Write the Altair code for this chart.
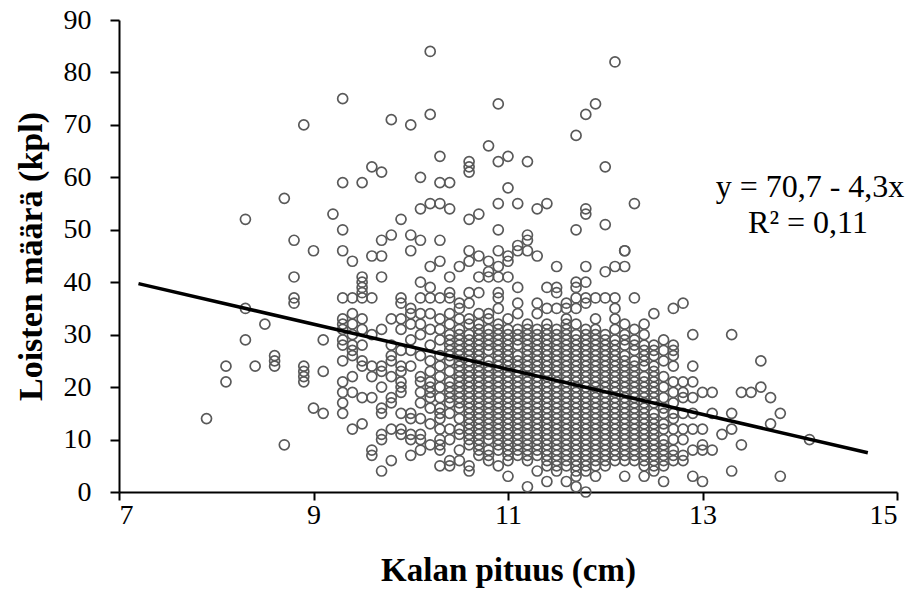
import altair as alt
import pandas as pd

# Fish length classes (cm) and parasite counts (kpl) observed at each length
lengths = [7.9, 8.1, 8.3, 8.4, 8.5, 8.6, 8.7, 8.8, 8.9, 9.0, 9.1, 9.2, 9.3, 9.4, 9.5,
           9.6, 9.7, 9.8, 9.9, 10.0, 10.1, 10.2, 10.3, 10.4, 10.5, 10.6, 10.7, 10.8,
           10.9, 11.0, 11.1, 11.2, 11.3, 11.4, 11.5, 11.6, 11.7, 11.8, 11.9, 12.0,
           12.1, 12.2, 12.3, 12.4, 12.5, 12.6, 12.7, 12.8, 12.9, 13.0, 13.1, 13.2,
           13.3, 13.4, 13.5, 13.6, 13.7, 13.8, 14.1]

counts = [
    [14],
    [24, 21],
    [52, 35, 29],
    [24],
    [32],
    [26, 25, 24],
    [56, 9],
    [48, 41, 37, 36],
    [70, 24, 23, 22, 21],
    [46, 16],
    [29, 23, 15],
    [53],
    [75, 59, 50, 46, 37, 33, 32, 31, 29, 28, 25, 21, 19, 17, 15],
    [44, 37, 34, 32, 30, 28, 27, 26, 22, 19, 12],
    [59, 41, 40, 39, 38, 37, 33, 31, 28, 25, 24, 18, 13],
    [62, 45, 37, 30, 24, 22, 18, 8, 7],
    [61, 48, 45, 41, 31, 24, 23, 20, 16, 15, 11, 10, 4],
    [71, 49, 33, 28, 26, 25, 22, 18, 17, 12, 6],
    [52, 37, 36, 33, 31, 27, 24, 23, 21, 20, 19, 15, 12, 11],
    [70, 49, 46, 35, 34, 32, 29, 27, 24, 15, 14, 11, 10, 7],
    [60, 54, 48, 40, 37, 34, 32, 30, 26, 22, 21, 19, 17, 14, 11, 10, 8],
    [84, 72, 55, 43, 39, 37, 34, 31, 28, 25, 23, 21, 20, 19, 18, 16, 13, 9],
    [64, 59, 55, 48, 44, 37, 33, 31, 29, 26, 24, 22, 20, 18, 16, 15, 14, 12, 10, 9, 8, 5],
    [59, 54, 41, 38, 37, 34, 32, 30, 29, 28, 27, 26, 25, 23, 21, 20, 19, 18, 17, 15, 12, 10, 6, 5],
    [43, 36, 35, 33, 31, 30, 29, 28, 27, 26, 25, 24, 23, 22, 21, 20, 19, 18, 17, 16, 14, 12, 11, 8, 6],
    [63, 62, 61, 52, 46, 44, 38, 36, 33, 32, 30, 29, 28, 27, 26, 25, 24, 23, 22, 21, 20, 19, 18, 17, 16, 15, 14, 13, 12, 11, 10, 9, 5, 4],
    [53, 45, 41, 38, 34, 32, 31, 30, 29, 28, 27, 26, 25, 24, 23, 22, 21, 20, 19, 18, 17, 16, 15, 14, 13, 12, 11, 10, 9, 8, 7],
    [66, 44, 42, 41, 34, 33, 31, 30, 29, 28, 27, 25, 24, 23, 22, 21, 20, 19, 18, 17, 16, 15, 14, 13, 12, 11, 10, 8, 7, 6],
    [74, 63, 55, 50, 46, 43, 41, 38, 37, 35, 32, 31, 30, 29, 28, 27, 26, 25, 24, 23, 22, 21, 20, 19, 18, 17, 16, 15, 14, 13, 12, 11, 10, 9, 8, 5],
    [64, 58, 45, 44, 41, 33, 31, 30, 29, 28, 27, 26, 25, 24, 23, 22, 21, 20, 19, 18, 17, 16, 15, 14, 13, 12, 11, 10, 9, 8, 7, 6, 3],
    [55, 47, 46, 39, 36, 34, 31, 30, 29, 28, 26, 25, 24, 23, 22, 21, 20, 19, 18, 17, 16, 15, 14, 13, 12, 11, 10, 9, 8, 7],
    [63, 49, 48, 46, 32, 31, 30, 29, 28, 27, 26, 25, 24, 23, 22, 21, 20, 19, 18, 17, 16, 15, 14, 13, 12, 11, 10, 9, 8, 7, 6, 1],
    [54, 45, 36, 34, 31, 30, 29, 28, 27, 26, 25, 24, 23, 22, 21, 20, 19, 18, 17, 16, 15, 14, 13, 12, 11, 10, 9, 8, 7, 4],
    [55, 39, 35, 32, 31, 30, 29, 28, 27, 26, 25, 24, 23, 22, 21, 20, 19, 18, 17, 16, 15, 14, 13, 12, 11, 10, 9, 8, 7, 6, 5, 2],
    [43, 39, 38, 35, 31, 30, 29, 28, 27, 26, 25, 24, 23, 22, 21, 20, 19, 18, 17, 16, 15, 14, 13, 12, 11, 10, 9, 8, 7, 6, 5, 4],
    [36, 35, 33, 32, 31, 30, 29, 28, 27, 26, 25, 24, 23, 22, 21, 20, 19, 18, 17, 16, 15, 14, 13, 12, 11, 10, 9, 8, 7, 6, 5, 2],
    [68, 50, 40, 39, 37, 35, 32, 30, 29, 28, 27, 26, 25, 24, 23, 22, 21, 20, 19, 18, 17, 16, 15, 14, 13, 12, 11, 10, 9, 8, 7, 6, 5, 4, 3, 1],
    [72, 54, 53, 43, 40, 37, 36, 31, 30, 29, 28, 27, 26, 25, 24, 23, 22, 21, 20, 19, 18, 17, 16, 15, 14, 13, 12, 11, 10, 9, 8, 7, 6, 5, 4, 0],
    [74, 37, 33, 31, 30, 29, 28, 27, 26, 25, 24, 23, 22, 21, 20, 19, 18, 17, 16, 15, 14, 13, 12, 11, 10, 9, 8, 7, 6, 5, 3],
    [62, 51, 42, 37, 30, 29, 28, 27, 26, 25, 24, 23, 22, 21, 20, 19, 18, 17, 16, 15, 14, 13, 12, 11, 10, 9, 8, 7, 6, 5],
    [82, 43, 37, 35, 33, 31, 29, 28, 27, 26, 25, 24, 23, 22, 21, 20, 19, 18, 17, 16, 15, 14, 13, 12, 11, 10, 9, 8, 7, 6],
    [46, 46, 43, 32, 30, 29, 28, 26, 25, 24, 23, 22, 21, 20, 19, 18, 17, 16, 15, 14, 13, 12, 11, 10, 9, 8, 7, 6, 3],
    [55, 37, 31, 29, 28, 27, 25, 24, 23, 22, 21, 20, 19, 18, 17, 16, 15, 14, 13, 12, 11, 10, 9, 8, 7, 6],
    [32, 30, 28, 27, 26, 25, 24, 22, 21, 20, 19, 18, 17, 16, 15, 14, 13, 12, 11, 10, 9, 8, 7, 6, 5, 3],
    [34, 28, 27, 26, 24, 23, 22, 21, 20, 19, 18, 17, 15, 14, 13, 12, 11, 10, 9, 8, 7, 6, 5, 4],
    [29, 27, 25, 22, 20, 18, 16, 15, 13, 12, 10, 9, 8, 7, 6, 5, 2],
    [35, 28, 27, 26, 24, 21, 19, 17, 15, 14, 12, 10, 8, 7, 6],
    [36, 21, 19, 18, 15, 12, 10, 7, 6],
    [30, 24, 21, 18, 15, 12, 8, 3],
    [19, 12, 9, 8, 2],
    [19, 15, 8],
    [11],
    [30, 15, 12, 4],
    [19, 9],
    [19],
    [25, 20],
    [18, 13],
    [15, 3],
    [10],
]

# Linear fit shown on the chart: y = 70,7 - 4,3x
intercept = 70.7
slope = -4.3
fit_x = [7.2, 14.7]

x_ticks = [7, 9, 11, 13, 15]
y_ticks = [0, 10, 20, 30, 40, 50, 60, 70, 80, 90]

eq_text = ["y = 70,7 - 4,3x"]
r2_text = ["R\u00b2 = 0,11"]

rows = []
for xv, ys in zip(lengths, counts):
    for yv in ys:
        rows.append({"pituus": xv, "loiset": yv})
points_df = pd.DataFrame(rows)
fit_df = pd.DataFrame({"pituus": fit_x, "loiset": [intercept + slope * v for v in fit_x]})

FONT = "Liberation Serif"

xscale = alt.Scale(domain=[7, 15], nice=False, zero=False)
yscale = alt.Scale(domain=[0, 90], nice=False)

x_axis = alt.Axis(values=x_ticks, format="d", title="Kalan pituus (cm)", grid=False,
                  labelFontSize=28, titleFontSize=33, labelPadding=1,
                  titleY=78, titleBaseline="middle", tickSize=8)
y_axis = alt.Axis(values=y_ticks, format="d", title="Loisten määrä (kpl)", grid=False,
                  labelFontSize=28, titleFontSize=34, labelPadding=19,
                  titleX=-88, titleY=236, titleAngle=270, titleAlign="center",
                  titleBaseline="middle", tickSize=9)

points = alt.Chart(points_df).mark_point(
    shape="circle", filled=False, color="#595959", size=100, strokeWidth=1.7, opacity=1
).encode(
    x=alt.X("pituus:Q", scale=xscale, axis=x_axis),
    y=alt.Y("loiset:Q", scale=yscale, axis=y_axis),
)

fit = alt.Chart(fit_df).mark_line(color="black", strokeWidth=3.5).encode(
    x=alt.X("pituus:Q", scale=xscale),
    y=alt.Y("loiset:Q", scale=yscale),
)

eq = alt.Chart(pd.DataFrame({"t": eq_text})).mark_text(
    font=FONT, fontSize=32, color="black", align="center", baseline="middle"
).encode(x=alt.value(691), y=alt.value(167), text="t:N")

r2 = alt.Chart(pd.DataFrame({"t": r2_text})).mark_text(
    font=FONT, fontSize=32, color="black", align="center", baseline="middle"
).encode(x=alt.value(689), y=alt.value(203), text="t:N")

chart = alt.layer(points, fit, eq, r2).properties(
    width=778, height=472,
    autosize=alt.AutoSizeParams(type="none"),
    padding={"left": 119, "top": 20, "right": 18, "bottom": 98},
    background="white",
).configure_view(stroke=None).configure_axis(
    domainColor="black", domainWidth=2, tickColor="black", tickWidth=2,
    labelFont=FONT, labelColor="black", titleFont=FONT, titleColor="black",
    titleFontWeight="bold",
)

chart.save("out.html", embed_options={"renderer": "svg", "actions": False})
